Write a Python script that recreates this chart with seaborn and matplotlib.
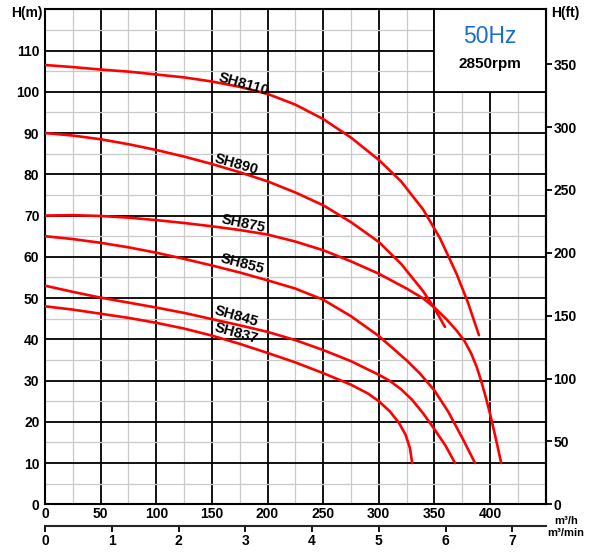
import numpy as np
import pandas as pd
import matplotlib
matplotlib.use("Agg")
import matplotlib.pyplot as plt
from matplotlib.patches import Rectangle
import seaborn as sns

# pump curves: flow in m3/h, head in m
sh8110_q = [0, 25, 50, 75, 100, 125, 150, 175, 200, 225, 250, 275, 300, 320, 340, 355, 370, 380, 390]
sh8110_h = [106.5, 106.0, 105.4, 104.9, 104.2, 103.5, 102.5, 101.2, 99.5, 96.9, 93.4, 88.9, 83.5, 78.3, 71.4, 64.5, 55.8, 49.0, 41.0]

sh890_q = [0, 25, 50, 75, 100, 125, 150, 175, 200, 225, 250, 275, 300, 320, 340, 350, 359.5]
sh890_h = [90.0, 89.4, 88.5, 87.3, 85.9, 84.3, 82.5, 80.5, 78.3, 75.6, 72.5, 68.4, 63.6, 58.3, 51.6, 47.5, 43.0]

sh875_q = [0, 25, 50, 75, 100, 125, 150, 175, 200, 225, 250, 275, 300, 325, 340, 350, 360, 370,
           377, 383, 388, 392, 396, 400, 404, 407, 410]
sh875_h = [70.0, 70.1, 69.9, 69.5, 68.9, 68.2, 67.4, 66.5, 65.4, 63.7, 61.6, 58.9, 55.9, 52.3, 49.9, 47.7, 45.1, 42.1,
           39.6, 36.6, 33.3, 29.9, 26.1, 21.9, 17.3, 13.7, 10.0]

sh855_q = [0, 25, 50, 75, 100, 125, 150, 175, 200, 225, 250, 275, 300, 325, 337, 350, 362.5, 375, 386.5]
sh855_h = [65.0, 64.3, 63.4, 62.3, 61.0, 59.5, 57.9, 56.2, 54.3, 52.3, 49.6, 45.6, 40.8, 34.9, 31.7, 27.6, 22.4, 16.1, 10.0]

sh845_q = [0, 25, 50, 75, 100, 125, 150, 175, 200, 225, 250, 275, 300, 310, 320, 330, 340, 350, 360, 368.5]
sh845_h = [53.0, 51.5, 50.1, 48.9, 47.7, 46.4, 44.9, 43.4, 41.8, 39.8, 37.4, 34.7, 31.4, 29.9, 27.9, 25.3, 22.0, 18.2, 14.2, 10.0]

sh837_q = [0, 25, 50, 75, 100, 125, 150, 175, 200, 225, 250, 275, 290, 300, 310, 318, 324, 328, 330]
sh837_h = [48.0, 47.2, 46.2, 45.2, 44.0, 42.6, 40.9, 38.9, 36.7, 34.4, 31.8, 29.0, 26.9, 25.0, 22.5, 19.8, 16.9, 13.6, 10.0]

models = ["SH8110", "SH890", "SH875", "SH855", "SH845", "SH837"]
flows = [sh8110_q, sh890_q, sh875_q, sh855_q, sh845_q, sh837_q]
heads = [sh8110_h, sh890_h, sh875_h, sh855_h, sh845_h, sh837_h]

# curve label positions (m3/h, m) and angle
label_q = [179, 172, 178, 177, 172, 172]
label_h = [101.9, 82.4, 67.9, 58.2, 45.6, 41.4]
label_rot = [-16, -16, -12, -15, -16, -16]

x_ticks = list(range(0, 401, 50))
y_ticks = list(range(0, 111, 10))
ft_ticks = list(range(0, 351, 50))
min_ticks = list(range(0, 8))

rows = []
for name, qs, hs in zip(models, flows, heads):
    for q, h in zip(qs, hs):
        rows.append((name, q, h))
df = pd.DataFrame(rows, columns=["model", "Q", "H"])

sns.set_style("white")
plt.rcParams["font.family"] = ["Liberation Sans", "DejaVu Sans"]
plt.rcParams["font.weight"] = "bold"
plt.rcParams["text.color"] = "black"
plt.rcParams["xtick.color"] = "black"
plt.rcParams["ytick.color"] = "black"
plt.rcParams["axes.labelcolor"] = "black"

fig = plt.figure(figsize=(5.94, 5.52), dpi=100)
ax = fig.add_axes([0.0758, 0.0864, 0.8429, 0.8967])

sns.lineplot(data=df, x="Q", y="H", hue="model", palette={m: "#ff0000" for m in models},
             sort=False, estimator=None, legend=False, linewidth=1.9, ax=ax, zorder=3)

ax.set_xlim(0, 450)
ax.set_ylim(0, 120)
ax.set_xticks(x_ticks)
ax.set_yticks(y_ticks)
ax.set_xticks(np.arange(0, 451, 25), minor=True)
ax.set_yticks(np.arange(0, 121, 5), minor=True)
ax.set_xticklabels([str(v) for v in x_ticks], fontsize=10, fontweight="bold")
ax.set_yticklabels([str(v) for v in y_ticks], fontsize=10, fontweight="bold")
ax.tick_params(axis="x", which="both", length=0, pad=2)
ax.tick_params(axis="y", which="both", length=0, pad=4)
ax.set_axisbelow(True)
ax.grid(which="minor", color="#cacaca", linewidth=0.9)
ax.grid(which="major", color="black", linewidth=1.3)
ax.set_xlabel("")
ax.set_ylabel("")
for s in ax.spines.values():
    s.set_visible(True)
    s.set_color("black")
    s.set_linewidth(1.5)

# info box top right
ax.add_patch(Rectangle((350, 100), 100, 20, facecolor="white", edgecolor="black",
                       linewidth=1.3, zorder=1))
ax.text(400, 113.3, "50Hz", color="#1a6dd0", fontsize=16.5, fontweight="normal",
        ha="center", va="center", zorder=4)
ax.text(400, 106.7, "2850rpm", color="black", fontsize=11, fontweight="bold",
        ha="center", va="center", zorder=4)

for name, q, h, r in zip(models, label_q, label_h, label_rot):
    ax.text(q, h, name, rotation=r, fontsize=10.5, fontweight="bold", color="black",
            ha="center", va="center", rotation_mode="anchor", zorder=4)

# feet on the right
ax_ft = ax.secondary_yaxis("right", functions=(lambda m: m / 0.3048, lambda f: f * 0.3048))
ax_ft.set_yticks(ft_ticks)
ax_ft.set_yticklabels([str(v) for v in ft_ticks], fontsize=10, fontweight="bold")
ax_ft.tick_params(length=4, width=1.3, pad=1.5, direction="out")
ax_ft.spines["right"].set_linewidth(1.5)

# m3/min underneath
ax_min = ax.secondary_xaxis(-0.044, functions=(lambda q: q / 60, lambda m: m * 60))
ax_min.set_xticks(min_ticks)
ax_min.set_xticklabels([str(v) for v in min_ticks], fontsize=10, fontweight="bold")
ax_min.tick_params(length=4.5, width=1.3, pad=1.5, direction="out")
ax_min.spines["bottom"].set_linewidth(1.5)

fig.text(43 / 594, 1 - 13 / 552, "H(m)", fontsize=10, fontweight="bold", ha="right", va="center")
fig.text(565 / 594, 1 - 13 / 552, "H(ft)", fontsize=10, fontweight="bold", ha="center", va="center")
fig.text(566 / 594, 1 - 520.5 / 552, "m³/h", fontsize=8, fontweight="bold", ha="center", va="center")
fig.text(566 / 594, 1 - 533 / 552, "m³/min", fontsize=8, fontweight="bold", ha="center", va="center")

fig.savefig("out.png", dpi=100)
